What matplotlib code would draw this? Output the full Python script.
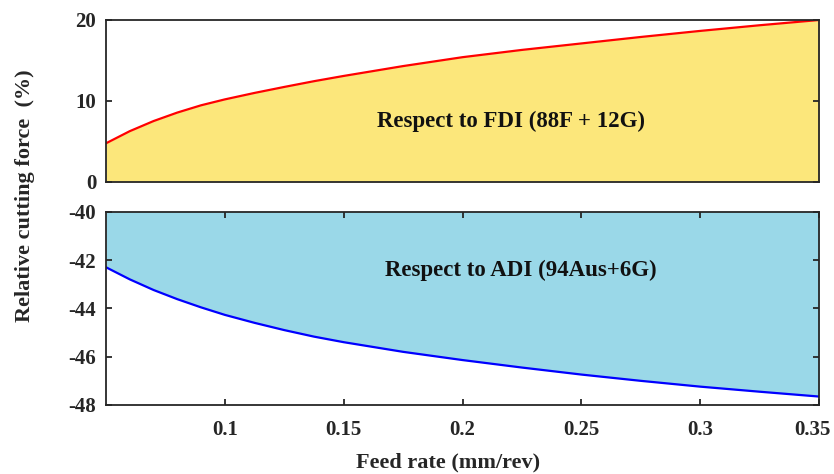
import matplotlib
matplotlib.use("Agg")
import matplotlib.pyplot as plt
import matplotlib.transforms as mtransforms

# Feed rate (mm/rev)
feed = [0.05, 0.06, 0.07, 0.08, 0.09, 0.10, 0.1125, 0.125, 0.1375, 0.15, 0.175, 0.20,
        0.225, 0.25, 0.275, 0.30, 0.325, 0.35]
# Relative cutting force respect to FDI (%)
fdi = [4.75, 6.25, 7.5, 8.55, 9.45, 10.18, 10.98, 11.72, 12.43, 13.08, 14.3, 15.4,
       16.3, 17.1, 17.9, 18.65, 19.35, 20.0]
# Relative cutting force respect to ADI (%)
adi = [-42.3, -42.8, -43.24, -43.62, -43.96, -44.27, -44.6, -44.9, -45.17, -45.4, -45.8, -46.14,
       -46.45, -46.74, -47.0, -47.24, -47.45, -47.65]

xticks = [0.1, 0.15, 0.2, 0.25, 0.3, 0.35]
xticklabels = ["0.1", "0.15", "0.2", "0.25", "0.3", "0.35"]
top_yticks = [0, 10, 20]
bot_yticks = [-48, -46, -44, -42, -40]

plt.rcParams['font.family'] = ['Liberation Serif', 'DejaVu Serif']
plt.rcParams['font.weight'] = 'bold'
plt.rcParams['axes.unicode_minus'] = False
FS_TICK = 15
FS_ANN = 16.5
FS_LAB = 16

fig = plt.figure(figsize=(8.34, 4.74), dpi=100)
left, right = 106 / 834, 819 / 834
ax1 = fig.add_axes([left, 1 - 181.7 / 474, right - left, (181.7 - 20) / 474])
ax2 = fig.add_axes([left, 1 - 405 / 474, right - left, (405 - 211.7) / 474])

yellow = '#FCE77B'
blue = '#9AD8E8'

ax1.fill_between(feed, fdi, 0, color=yellow, lw=0)
ax1.plot(feed, fdi, color='#FF0000', lw=1.6)
ax1.set_xlim(0.05, 0.35)
ax1.set_ylim(0, 20)
ax1.set_yticks(top_yticks)
ax1.set_xticks([])
ax1.text(0.2203, 7.5, "Respect to FDI (88F + 12G)", ha='center', va='center',
         fontsize=FS_ANN, fontweight='bold', color='#111111')

ax2.fill_between(feed, adi, -40, color=blue, lw=0)
ax2.plot(feed, adi, color='#0000FF', lw=1.6)
ax2.set_xlim(0.05, 0.35)
ax2.set_ylim(-48, -40)
ax2.set_yticks(bot_yticks)
ax2.set_xticks(xticks)
ax2.set_xticklabels(xticklabels)
ax2.text(0.2245, -42.45, "Respect to ADI (94Aus+6G)", ha='center', va='center',
         fontsize=FS_ANN, fontweight='bold', color='#111111')

for ax in (ax1, ax2):
    for s in ax.spines.values():
        s.set_color('#262626')
        s.set_linewidth(1.3)
    ax.tick_params(direction='in', length=4, width=1.3, color='#262626',
                   labelsize=FS_TICK, labelcolor='#262626', right=True, top=(ax is ax2))
    ax.tick_params(axis='y', pad=7)
    ax.tick_params(axis='x', pad=11)
    for lab in ax.get_xticklabels() + ax.get_yticklabels():
        lab.set_fontweight('bold')

# keep the last x tick label inside the figure, as in the reference
last = ax2.get_xticklabels()[-1]
last.set_transform(last.get_transform() +
                   mtransforms.ScaledTranslation(-7 / 100, 0, fig.dpi_scale_trans))

fig.text(25 / 834, 1 - 196 / 474, "Relative cutting force  (%)", rotation=90,
         ha='center', va='center', fontsize=FS_LAB, fontweight='bold', color='#262626')
fig.text(448 / 834, 1 - 462 / 474, "Feed rate (mm/rev)", ha='center', va='center',
         fontsize=FS_LAB, fontweight='bold', color='#262626')

fig.savefig("out.png", dpi=100)
